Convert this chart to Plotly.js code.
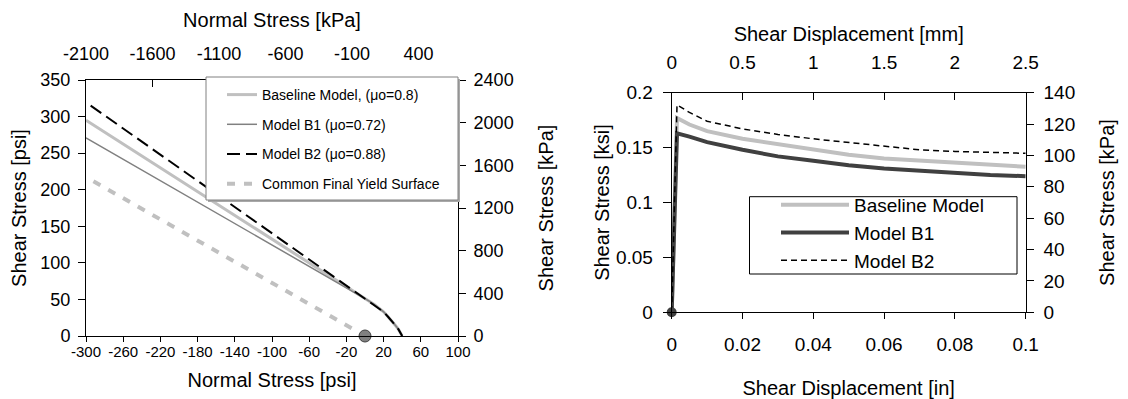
<!DOCTYPE html>
<html>
<head>
<meta charset="utf-8">
<script src="https://cdn.plot.ly/plotly-3.0.1.min.js"></script>
<style>html,body{margin:0;padding:0;background:#fff;}#chart{width:1128px;height:399px;}</style>
</head>
<body>
<div id="chart"></div>
<script>
// ---------- Left chart: yield surfaces (psi) ----------
const capNormal = [0, 5, 10, 15, 20, 25, 30, 33, 36, 38, 39.3, 40];
const capShear  = [52, 47.5, 43, 38, 33, 26, 19, 14, 9, 5, 2.5, 0];
const baselineNormal = [-300].concat(capNormal);
const baselineShear  = [295].concat(capShear);
const b1Normal = [-300].concat(capNormal);
const b1Shear  = [271].concat(capShear);
const b2Normal = [-295].concat(capNormal);
const b2Shear  = [315].concat(capShear);
const finalNormal = [-292, -12];
const finalShear  = [211.5, 9];
const originNormal = [0];
const originShear = [0];
const leftNames = ['Baseline Model, (\u03bco=0.8)', 'Model B1 (\u03bco=0.72)', 'Model B2 (\u03bco=0.88)', 'Common Final Yield Surface'];
const psiTicks = [-300, -260, -220, -180, -140, -100, -60, -20, 20, 60, 100];
const psiTickText = ['-300', '-260', '-220', '-180', '-140', '-100', '-60', '-20', '20', '60', '100'];
const kpaTicks = [-2100, -1600, -1100, -600, -100, 400];
const kpaTickText = ['-2100', '-1600', '-1100', '-600', '-100', '400'];

// ---------- Right chart: shear stress vs displacement ----------
const dispIn = [0, 0.0015, 0.005, 0.01, 0.02, 0.03, 0.04, 0.05, 0.06, 0.07, 0.08, 0.09, 0.1];
const baselineKsi = [0, 0.177, 0.171, 0.165, 0.158, 0.153, 0.148, 0.1435, 0.140, 0.138, 0.136, 0.134, 0.1326];
const b1Ksi       = [0, 0.163, 0.160, 0.155, 0.148, 0.142, 0.138, 0.134, 0.131, 0.129, 0.127, 0.125, 0.124];
const b2Ksi       = [0, 0.189, 0.182, 0.174, 0.167, 0.162, 0.158, 0.1545, 0.151, 0.148, 0.1465, 0.1455, 0.1448];
const rightNames = ['Baseline Model', 'Model B1', 'Model B2'];

const FONT = 'Liberation Sans, Arial, sans-serif';
const W = 1128, H = 399;
const px = v => v / W;
const py = v => (H - v) / H;

const traces = [
  {x: baselineNormal, y: baselineShear, name: leftNames[0], mode: 'lines', xaxis: 'x', yaxis: 'y',
   line: {color: '#c0c0c0', width: 3}, legend: 'legend', legendgroup: 'a'},
  {x: b1Normal, y: b1Shear, name: leftNames[1], mode: 'lines', xaxis: 'x', yaxis: 'y',
   line: {color: '#808080', width: 1.5}, legend: 'legend', legendgroup: 'b'},
  {x: b2Normal, y: b2Shear, name: leftNames[2], mode: 'lines', xaxis: 'x', yaxis: 'y',
   line: {color: '#000000', width: 2, dash: '13px,6px'}, legend: 'legend', legendgroup: 'c'},
  {x: finalNormal, y: finalShear, name: leftNames[3], mode: 'lines', xaxis: 'x', yaxis: 'y',
   line: {color: '#c0c0c0', width: 4, dash: '8px,9px'}, legend: 'legend', legendgroup: 'd'},
  {x: originNormal, y: originShear, mode: 'markers', xaxis: 'x', yaxis: 'y', showlegend: false, cliponaxis: false,
   marker: {color: '#808080', size: 12, line: {color: '#404040', width: 1}}},
  // secondary (unit) axes of the left chart
  {x: [], y: [], xaxis: 'x2', yaxis: 'y2', mode: 'lines', showlegend: false, hoverinfo: 'skip'},

  {x: dispIn, y: baselineKsi, name: rightNames[0], mode: 'lines', xaxis: 'x3', yaxis: 'y3',
   line: {color: '#c0c0c0', width: 4}, legend: 'legend2'},
  {x: dispIn, y: b1Ksi, name: rightNames[1], mode: 'lines', xaxis: 'x3', yaxis: 'y3',
   line: {color: '#404040', width: 4}, legend: 'legend2'},
  {x: dispIn, y: b2Ksi, name: rightNames[2], mode: 'lines', xaxis: 'x3', yaxis: 'y3',
   line: {color: '#000000', width: 1.5, dash: '6px,4px'}, legend: 'legend2'},
  {x: [dispIn[0]], y: [b1Ksi[0]], mode: 'markers', xaxis: 'x3', yaxis: 'y3', showlegend: false, cliponaxis: false,
   marker: {color: '#404040', size: 10}},
  // secondary (unit) axes of the right chart
  {x: [], y: [], xaxis: 'x4', yaxis: 'y4', mode: 'lines', showlegend: false, hoverinfo: 'skip'}
];

const tickFont = s => ({family: FONT, size: s, color: '#000'});
const titleFont = {family: FONT, size: 20, color: '#000'};
const common = {showgrid: false, zeroline: false, showline: true, linecolor: '#000', linewidth: 1, tickcolor: '#000', ticklen: 6};

const layout = {
  width: W, height: H,
  margin: {l: 0, r: 0, t: 0, b: 0},
  paper_bgcolor: '#fff', plot_bgcolor: 'rgba(0,0,0,0)',
  font: {family: FONT, color: '#000'},
  showlegend: true,
  // left chart
  xaxis: Object.assign({}, common, {
    domain: [px(86), px(458)], anchor: 'y', range: [-300, 100],
    tickmode: 'array', tickvals: psiTicks, ticktext: psiTickText,
    ticks: 'outside', ticklen: 5, tickfont: tickFont(15), ticklabelstandoff: -3,
    title: {text: 'Normal Stress [psi]', font: titleFont, standoff: 13}
  }),
  xaxis2: Object.assign({}, common, {
    overlaying: 'x', side: 'top', anchor: 'y2', range: [-2100, 697],
    tickmode: 'array', tickvals: kpaTicks, ticktext: kpaTickText,
    ticks: 'inside', ticklen: 7, tickfont: tickFont(18), ticklabelstandoff: 12,
    title: {text: 'Normal Stress [kPa]', font: titleFont, standoff: 10}
  }),
  yaxis: Object.assign({}, common, {
    domain: [py(336), py(80)], anchor: 'x', range: [0, 350], dtick: 50,
    ticks: 'outside', ticklen: 7, tickfont: tickFont(18), ticklabelstandoff: 4,
    title: {text: 'Shear Stress [psi]', font: titleFont, standoff: 8}
  }),
  yaxis2: Object.assign({}, common, {
    overlaying: 'y', side: 'right', anchor: 'x2', range: [0, 2400], dtick: 400,
    ticks: 'outside', ticklen: 7, tickfont: tickFont(18), ticklabelstandoff: 4,
    title: {text: 'Shear Stress [kPa]', font: titleFont, standoff: 26}
  }),
  // right chart
  xaxis3: Object.assign({}, common, {
    domain: [px(671.7), px(1025.7)], anchor: 'y3', range: [0, 0.1], dtick: 0.02,
    ticks: 'outside', ticklen: 6, tickfont: tickFont(19), ticklabelstandoff: 9,
    title: {text: 'Shear Displacement [in]', font: titleFont, standoff: 27}
  }),
  xaxis4: Object.assign({}, common, {
    overlaying: 'x3', side: 'top', anchor: 'y4', range: [0, 2.5], dtick: 0.5,
    ticks: 'inside', ticklen: 7, tickfont: tickFont(19), ticklabelstandoff: 15,
    title: {text: 'Shear Displacement [mm]', font: titleFont, standoff: 5}
  }),
  yaxis3: Object.assign({}, common, {
    domain: [py(312.3), py(92.7)], anchor: 'x3', range: [0, 0.2], dtick: 0.05,
    ticks: 'outside', ticklen: 8, tickfont: tickFont(19), ticklabelstandoff: 6,
    title: {text: 'Shear Stress [ksi]', font: titleFont, standoff: 0}
  }),
  yaxis4: Object.assign({}, common, {
    overlaying: 'y3', side: 'right', anchor: 'x4', range: [0, 140], dtick: 20,
    ticks: 'outside', ticklen: 7, tickfont: tickFont(19), ticklabelstandoff: 6,
    title: {text: 'Shear Stress [kPa]', font: titleFont, standoff: 25}
  }),
  legend: {
    x: px(222), y: py(79), xanchor: 'left', yanchor: 'top',
    bgcolor: 'rgba(0,0,0,0)', borderwidth: 0, traceorder: 'grouped', tracegroupgap: 8.5,
    font: {family: FONT, size: 14, color: '#000'}
  },
  legend2: {
    x: px(776), y: py(186), xanchor: 'left', yanchor: 'top', itemwidth: 68,
    bgcolor: 'rgba(0,0,0,0)', borderwidth: 0,
    font: {family: FONT, size: 19, color: '#000'}
  },
  shapes: [
    {type: 'rect', xref: 'paper', yref: 'paper', x0: px(208), x1: px(460), y0: py(79), y1: py(202),
     fillcolor: '#a8a8a8', line: {width: 0}, layer: 'above'},
    {type: 'rect', xref: 'paper', yref: 'paper', x0: px(206), x1: px(458), y0: py(77), y1: py(200),
     fillcolor: '#ffffff', line: {color: '#808080', width: 1}, layer: 'above'},
    {type: 'rect', xref: 'paper', yref: 'paper', x0: px(749.5), x1: px(1017), y0: py(196.7), y1: py(274),
     fillcolor: '#ffffff', line: {color: '#000000', width: 1}, layer: 'above'}
  ]
};

Plotly.newPlot('chart', traces, layout, {displayModeBar: false, staticPlot: true});
</script>
</body>
</html>
